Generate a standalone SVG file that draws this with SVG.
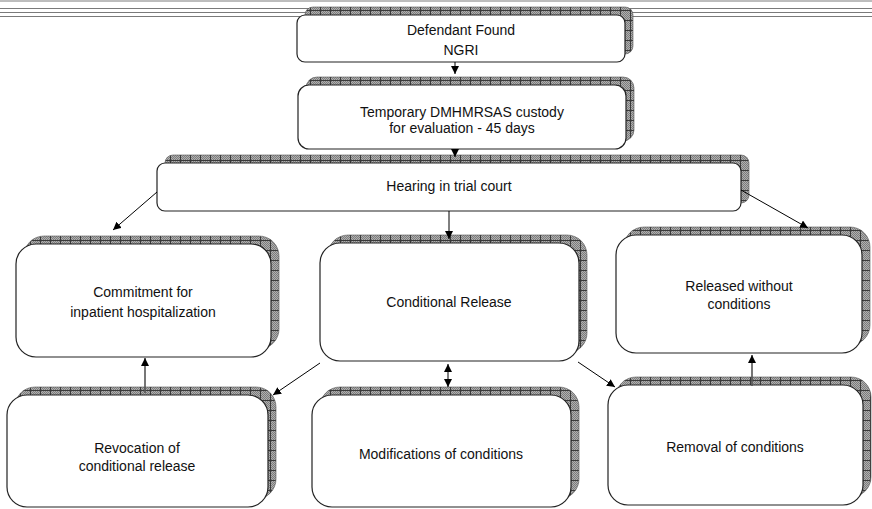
<svg xmlns="http://www.w3.org/2000/svg" width="872" height="509" viewBox="0 0 872 509">
<defs>
<pattern id="dither" width="2" height="2" patternUnits="userSpaceOnUse">
<rect width="2" height="2" fill="#b0b0b0"/>
<rect width="1" height="1" fill="#7c7c7c"/>
<rect x="1" y="1" width="1" height="1" fill="#7c7c7c"/>
</pattern>
<pattern id="shade" width="10" height="10" patternUnits="userSpaceOnUse">
<rect width="10" height="10" fill="url(#dither)"/>
<rect width="1" height="10" fill="#3a3a3a"/>
<rect width="10" height="1" fill="#3a3a3a"/>
</pattern>
<marker id="ah" viewBox="0 0 10 10" refX="10" refY="5" markerWidth="8" markerHeight="8" markerUnits="userSpaceOnUse" orient="auto-start-reverse">
<path d="M0,0 L10,5 L0,10 z" fill="#000"/>
</marker>
</defs>
<style>
.sh{fill:url(#shade);stroke:#555;stroke-width:0.6}
.bx{fill:#fff;stroke:#222;stroke-width:1.2}
.t{font-family:"Liberation Sans",Arial,sans-serif;font-size:14px;fill:#111;text-anchor:middle}
.c{stroke:#000;stroke-width:1;fill:none;marker-end:url(#ah)}
.cg{stroke:#555;stroke-width:1.6;fill:none;marker-end:url(#ah)}
.hl{stroke:#7a7a7a;stroke-width:1}
</style>
<rect width="872" height="509" fill="#fff"/>
<g id="rules">
<line class="hl" x1="0" y1="1" x2="872" y2="1"/>
<line class="hl" x1="0" y1="8.5" x2="872" y2="8.5"/>
<line class="hl" x1="0" y1="12.5" x2="872" y2="12.5"/>
<line class="hl" x1="0" y1="16.5" x2="872" y2="16.5"/>
</g>
<g id="n-defendant">
<rect class="sh" x="305" y="7" width="328" height="47" rx="8"/>
<rect class="bx" x="297" y="15" width="328" height="47" rx="8"/>
<text class="t" x="461" y="35">Defendant Found</text>
<text class="t" x="461" y="55">NGRI</text>
</g>
<g id="n-temporary">
<rect class="sh" x="306" y="77" width="328" height="64" rx="11"/>
<rect class="bx" x="298" y="85" width="328" height="64" rx="11"/>
<text class="t" x="462" y="117">Temporary DMHMRSAS custody</text>
<text class="t" x="462" y="133">for evaluation - 45 days</text>
</g>
<g id="n-hearing">
<rect class="sh" x="165" y="155" width="584" height="48" rx="8"/>
<rect class="bx" x="157" y="163" width="584" height="48" rx="8"/>
<text class="t" x="449" y="191">Hearing in trial court</text>
</g>
<g id="n-commitment">
<rect class="sh" x="24" y="236" width="255" height="113" rx="20"/>
<rect class="bx" x="16" y="244" width="255" height="113" rx="20"/>
<text class="t" x="143" y="297">Commitment for</text>
<text class="t" x="143" y="317">inpatient hospitalization</text>
</g>
<g id="n-conditional">
<rect class="sh" x="328" y="235" width="259" height="118" rx="20"/>
<rect class="bx" x="320" y="243" width="259" height="118" rx="20"/>
<text class="t" x="449" y="307">Conditional Release</text>
</g>
<g id="n-released">
<rect class="sh" x="624" y="227" width="246" height="118" rx="20"/>
<rect class="bx" x="616" y="235" width="246" height="118" rx="20"/>
<text class="t" x="739" y="291">Released without</text>
<text class="t" x="739" y="309">conditions</text>
</g>
<g id="n-revocation">
<rect class="sh" x="15" y="387" width="261" height="112" rx="20"/>
<rect class="bx" x="7" y="395" width="261" height="112" rx="20"/>
<text class="t" x="137" y="453">Revocation of</text>
<text class="t" x="137" y="471">conditional release</text>
</g>
<g id="n-modifications">
<rect class="sh" x="320" y="387" width="259" height="112" rx="20"/>
<rect class="bx" x="312" y="395" width="259" height="112" rx="20"/>
<text class="t" x="441" y="459">Modifications of conditions</text>
</g>
<g id="n-removal">
<rect class="sh" x="616" y="377" width="255" height="120" rx="20"/>
<rect class="bx" x="608" y="385" width="255" height="120" rx="20"/>
<text class="t" x="735" y="452">Removal of conditions</text>
</g>
<g id="connectors">
<path class="c" d="M455,62 L455,74"/>
<path class="c" d="M455,149 L455,157"/>
<path class="c" d="M157,192 L113,230"/>
<path class="c" d="M449,211 L449,239"/>
<path class="c" d="M741,190 L808,228"/>
<path class="cg" d="M145,393 L145,358"/>
<path class="c" d="M320,363 L273,395"/>
<path class="c" d="M448,364 L448,387" style="marker-start:url(#ah)"/>
<path class="c" d="M578,362 L615,387"/>
<path class="cg" d="M752,386 L752,355"/>
</g>
</svg>
